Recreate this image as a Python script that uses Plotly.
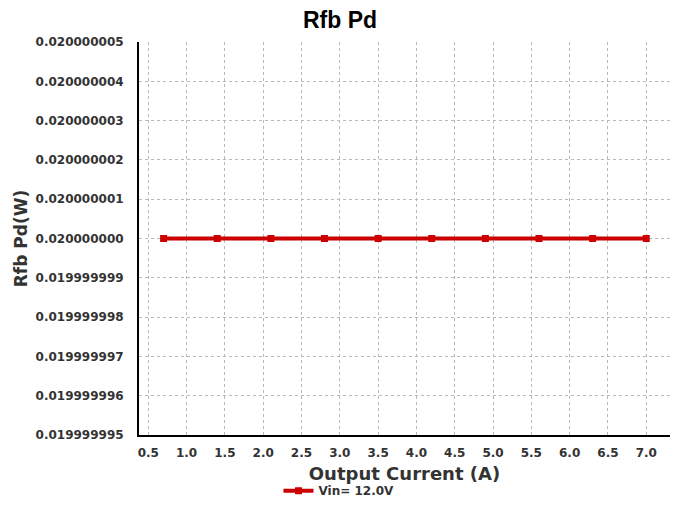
import plotly.graph_objects as go

current = [0.7, 1.4, 2.1, 2.8, 3.5, 4.2, 4.9, 5.6, 6.3, 7.0]
pd_vin12 = [0.020000000] * 10
series_name = "Vin= 12.0V"
x_ticks = [0.5, 1.0, 1.5, 2.0, 2.5, 3.0, 3.5, 4.0, 4.5, 5.0, 5.5, 6.0, 6.5, 7.0]
y_ticks = [0.019999995, 0.019999996, 0.019999997, 0.019999998, 0.019999999,
           0.020000000, 0.020000001, 0.020000002, 0.020000003, 0.020000004, 0.020000005]

LAB = "DejaVu Sans, sans-serif"
TITLE = "Liberation Sans, Arial, sans-serif"

fig = go.Figure()
fig.add_trace(go.Scatter(
    x=current, y=pd_vin12, mode="lines+markers", name=series_name,
    line=dict(color="#cc0000", width=4),
    marker=dict(symbol="square", size=7, color="#cc0000"),
))

fig.update_layout(
    width=670, height=508,
    margin=dict(l=131, r=8, t=34, b=81, autoexpand=False),
    paper_bgcolor="white", plot_bgcolor="white",
    font=dict(family=LAB, color="#333333"),
    title=dict(text="<b>Rfb Pd</b>", xref="container", x=0.4955, xanchor="center",
               yref="container", y=0.976, yanchor="middle",
               font=dict(family=TITLE, size=23, color="black")),
    showlegend=True,
    legend=dict(orientation="h", x=0.3766, xanchor="center",
                y=-0.142, yanchor="middle",
                font=dict(family=LAB, size=12, color="#333333", weight="bold"), itemwidth=30,
                bgcolor="rgba(0,0,0,0)"),
    xaxis=dict(
        range=[0.379, 7.31], tickmode="array", tickvals=x_ticks,
        ticktext=[f"<b>{v:.1f}</b>" for v in x_ticks],
        tickfont=dict(family=LAB, size=12, color="#333333"),
        showgrid=True, gridcolor="#b8b8b8", griddash="dot", gridwidth=1,
        showline=True, linecolor="black", linewidth=2, zeroline=False,
        ticks="", ticklabelstandoff=6, automargin=False,
        title=dict(text="<b>Output Current (A)</b>", font=dict(family=LAB, size=18, color="#333333"),
                   standoff=8),
    ),
    yaxis=dict(
        range=[0.019999995, 0.020000005], tickmode="array", tickvals=y_ticks,
        ticktext=[f"<b>{v:.9f}</b>" for v in y_ticks],
        tickfont=dict(family=LAB, size=12, color="#333333"),
        showgrid=True, gridcolor="#b8b8b8", griddash="dot", gridwidth=1,
        showline=True, linecolor="black", linewidth=2, mirror=True, zeroline=False,
        ticks="", ticklabelstandoff=11, automargin=False,
        title=dict(text="<b>Rfb Pd(W)</b>", font=dict(family=LAB, size=17, color="#333333"),
                   standoff=4),
    ),
)

fig.write_html("out.html")
